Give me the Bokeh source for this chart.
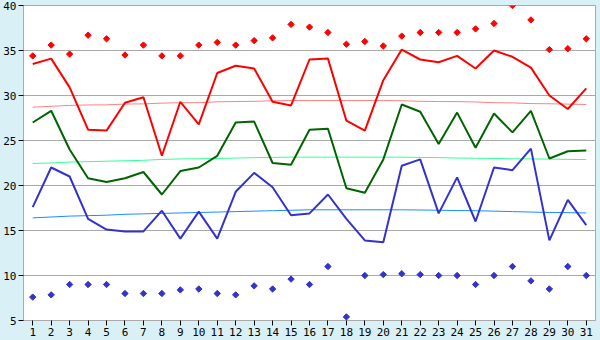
import math
from bokeh.plotting import figure
from bokeh.embed import file_html
from bokeh.resources import INLINE
from bokeh.models import FixedTicker

days = list(range(1, 32))
max_temp = [33.5, 34.1, 30.9, 26.2, 26.1, 29.2, 29.8, 23.3, 29.3, 26.8,
            32.5, 33.3, 33.0, 29.3, 28.9, 34.0, 34.1, 27.2, 26.1, 31.7,
            35.1, 34.0, 33.7, 34.4, 33.0, 35.0, 34.3, 33.1, 30.0, 28.5, 30.8]
mean_temp = [27.0, 28.3, 24.0, 20.8, 20.4, 20.8, 21.5, 19.0, 21.6, 22.0,
             23.3, 27.0, 27.1, 22.5, 22.3, 26.2, 26.3, 19.7, 19.2, 22.9,
             29.0, 28.2, 24.6, 28.1, 24.2, 28.0, 25.9, 28.3, 23.0, 23.8, 23.9]
min_temp = [17.6, 22.0, 21.0, 16.3, 15.1, 14.9, 14.9, 17.2, 14.1, 17.1,
            14.1, 19.3, 21.4, 19.8, 16.7, 16.9, 19.0, 16.3, 13.9, 13.7,
            22.2, 22.9, 16.9, 20.9, 16.0, 22.0, 21.7, 24.1, 13.9, 18.4, 15.6]
record_high = [34.4, 35.6, 34.6, 36.7, 36.3, 34.5, 35.6, 34.4, 34.4, 35.6,
               35.9, 35.6, 36.1, 36.4, 37.9, 37.6, 37.0, 35.7, 36.0, 35.5,
               36.6, 37.0, 37.0, 37.0, 37.4, 38.0, 40.0, 38.4, 35.1, 35.2, 36.3]
record_low = [7.6, 7.85, 9.0, 9.0, 9.0, 8.0, 8.0, 8.0, 8.4, 8.5,
              8.0, 7.85, 8.85, 8.5, 9.6, 9.0, 11.0, 5.4, 10.0, 10.1,
              10.2, 10.1, 10.0, 10.0, 9.0, 10.0, 11.0, 9.4, 8.5, 11.0, 10.0]
normal_max = [28.7, 28.8, 28.9, 28.95, 28.96, 29.05, 29.07, 29.15, 29.2, 29.2,
              29.3, 29.33, 29.35, 29.42, 29.44, 29.44, 29.44, 29.44, 29.44, 29.44,
              29.42, 29.35, 29.33, 29.32, 29.28, 29.2, 29.18, 29.1, 29.08, 29.04, 29.0]
normal_mean = [22.45, 22.5, 22.6, 22.65, 22.7, 22.75, 22.8, 22.9, 22.95, 22.97,
               23.0, 23.05, 23.1, 23.12, 23.15, 23.15, 23.15, 23.15, 23.15, 23.15,
               23.15, 23.12, 23.1, 23.05, 23.03, 23.0, 22.97, 22.95, 22.93, 22.9, 22.88]
normal_min = [16.4, 16.5, 16.6, 16.65, 16.7, 16.8, 16.85, 16.9, 16.95, 17.0,
              17.05, 17.1, 17.15, 17.2, 17.25, 17.3, 17.3, 17.3, 17.3, 17.3,
              17.3, 17.28, 17.25, 17.22, 17.2, 17.15, 17.1, 17.05, 17.0, 16.98, 16.95]
y_ticks = [5, 10, 15, 20, 25, 30, 35, 40]

BG = "#d9f0f7"
GRID = "#aaaaaa"

p = figure(width=600, height=340, output_backend="svg", toolbar_location=None,
           x_range=(0.5, 31.5), y_range=(5, 40),
           min_border_left=20, min_border_right=5, min_border_top=5, min_border_bottom=20,
           background_fill_color="white", border_fill_color=BG)
p.outline_line_color = GRID
p.xgrid.grid_line_color = None
p.ygrid.grid_line_color = GRID
p.ygrid.ticker = FixedTicker(ticks=y_ticks)

for ax in (p.xaxis[0], p.yaxis[0]):
    ax.axis_line_color = GRID
    ax.major_tick_line_color = "black"
    ax.major_tick_out = 5
    ax.major_tick_in = 0
    ax.minor_tick_line_color = None
    ax.major_label_text_font = "DejaVu Sans Mono"
    ax.major_label_text_font_size = "11px"
    ax.major_label_text_color = "black"
    ax.major_label_standoff = 2
p.xaxis.ticker = FixedTicker(ticks=days)
p.yaxis.ticker = FixedTicker(ticks=y_ticks)

# normal trend lines
p.line(days, normal_max, line_color="#ff8080", line_width=1)
p.line(days, normal_mean, line_color="#33ff99", line_width=1)
p.line(days, normal_min, line_color="#1a8cff", line_width=1)

# main lines
p.line(days, max_temp, line_color="#ff0000", line_width=2)
p.line(days, mean_temp, line_color="#006400", line_width=2)
p.line(days, min_temp, line_color="#3333cc", line_width=2)

# records
p.scatter(days, record_high, marker="square", size=4.5, angle=math.pi / 4,
          fill_color="#ff0000", line_color="#ff0000", line_width=1)
p.scatter(days, record_low, marker="square", size=4.5, angle=math.pi / 4,
          fill_color="#3333cc", line_color="#3333cc", line_width=1)

html = file_html(p, INLINE)
html = html.replace("</head>", "<style>html,body{margin:0;padding:0;background:%s;}</style></head>" % BG, 1)
open("out.html", "w").write(html)
